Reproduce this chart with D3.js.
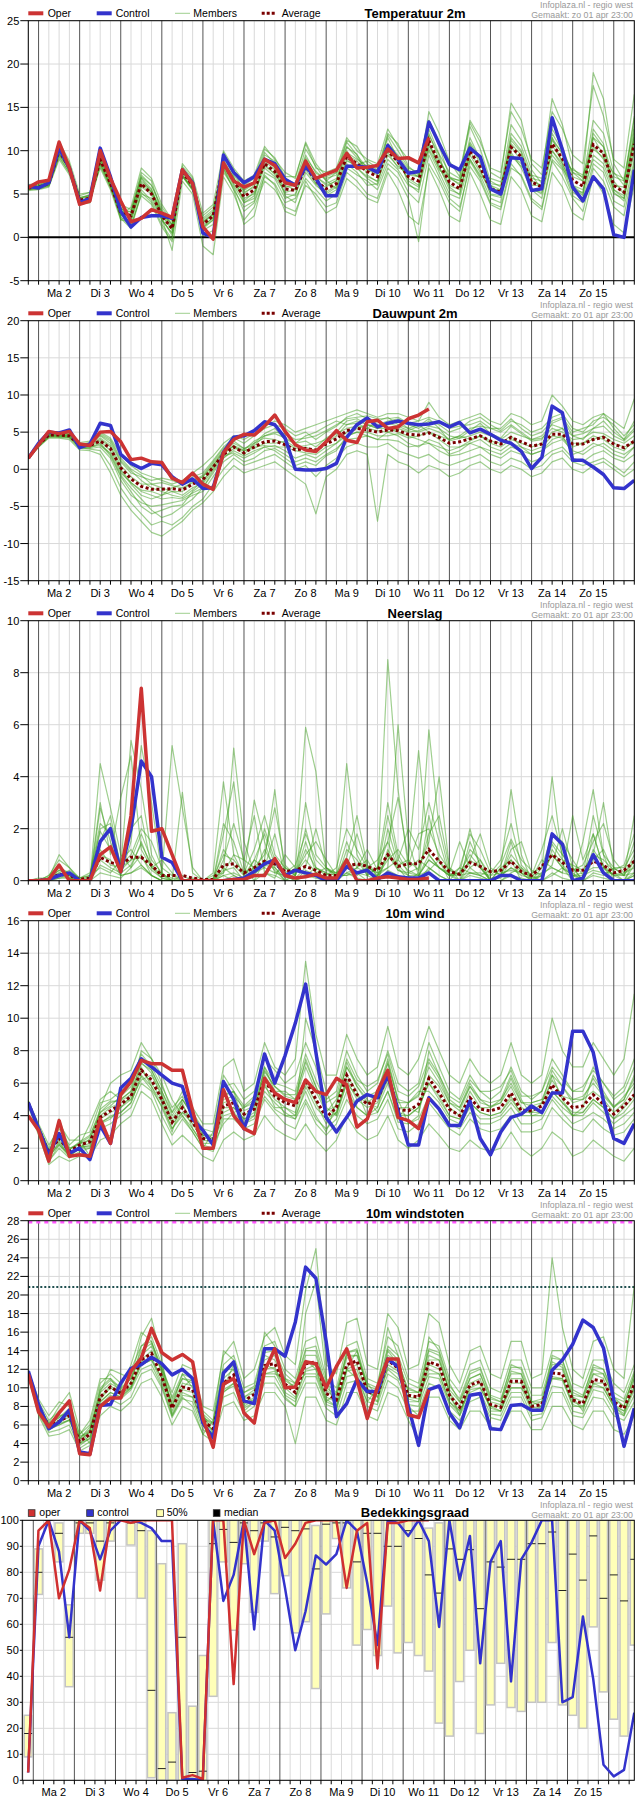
<!DOCTYPE html>
<html><head><meta charset="utf-8">
<script src="https://cdn.jsdelivr.net/npm/d3@7"></script>
<style>
body{margin:0;background:#fff}
svg{display:block}
text{font-family:"Liberation Sans",Arial,Helvetica,sans-serif}
</style>
</head><body>
<svg id="chart" width="635" height="1800"></svg>
<script>
// ---------- categories / labels ----------
const DAY_LABELS = ["Ma 2","Di 3","Wo 4","Do 5","Vr 6","Za 7","Zo 8","Ma 9","Di 10","Wo 11","Do 12","Vr 13","Za 14","Zo 15"];
const SOURCE_LINE1 = "Infoplaza.nl - regio west";
const SOURCE_LINE2 = "Gemaakt: zo 01 apr 23:00";

// ---------- Temperatuur 2m ----------
const T2M_OPER = [5.75,6.4,6.6,11,8,3.8,4.2,10,6.8,4.2, 1.8,2.2,3.2,2.8,2.3,7.8,6.2,1.2,-0.2,8.6, 6.5,5.8,6.3,9,8.3,6.3,6,8.8,6.8,7.3, 7.75,9.7,8,8.1,8.3,10.2,9.1,9.2,8.6,11.5];
const T2M_CTRL = [5.9,5.7,6.3,10.3,8,4,4.5,10.3,7,3, 1.2,2.3,2.5,2.5,2.2,7.8,6.3,0.5,0,9.5, 7.5,6.3,7,9,8.5,6.7,6,8.2,6.8,4.8, 4.8,8.2,8.2,8.1,7.5,10.6,9,7.4,7.6,13.3, 10.8,8.4,7.8,10.3,9.3,5.6,5,9.2,9.1,5.4, 5.6,13.8,10.1,5.8,4.2,7,5.6,0.3,0,7.8];
const T2M_AVG = [5.7,5.8,6.2,10,8,4.3,4.5,9,6.2,2.8, 2.5,6.2,5,2.5,1,7.5,6,1.5,2.5,8.5, 6.5,4.7,5.5,8.5,7.6,5.6,5.4,8.2,6.5,5.6, 6.2,9.3,8.5,7.6,7,10,8.7,7,6.5,11.2, 8.5,6.4,5.6,10,8.1,5.6,5.2,10.4,9.3,6.4, 5.8,10.8,9.1,6.6,5.9,10.7,9.7,6,5.2,10.8];
const T2M_MEMBERS = [
 [6.0,6.1,6.5,10.8,8.5,4.0,4.2,9.8,6.8,3.5, 2.0,5.5,4.2,2.0,0.5,8.0,6.5,1.0,2.0,9.5, 7.2,5.5,6.5,9.8,8.5,6.2,6.0,9.5,7.4,6.8, 7.2,11.0,9.5,8.0,7.8,11.5,9.0,6.5,5.8,12.5, 9.6,7.5,6.8,12.8,10.2,6.5,5.8,13.0,11.2,7.8, 6.2,12.5,10.5,7.0,6.5,13.5,12.0,7.5,6.0,13.8],
 [5.5,5.6,5.9,9.2,7.5,4.5,4.8,8.0,5.5,2.0, 2.8,7.2,6.0,3.2,1.5,7.0,5.8,2.5,3.5,7.5, 5.8,3.0,4.0,7.0,6.2,4.0,4.5,6.8,5.5,4.2, 5.0,8.0,7.2,6.5,5.5,8.5,7.5,5.2,4.0,9.5, 7.0,4.5,3.5,8.2,6.5,3.8,3.2,8.0,7.2,4.5, 3.5,9.0,7.8,4.8,4.0,8.5,7.5,4.2,3.5,9.0],
 [5.9,6.0,6.4,10.4,8.2,3.8,4.0,9.5,6.5,3.0, 1.5,4.8,3.8,1.2,-0.5,8.2,6.8,0.8,1.5,10.0, 8.0,6.5,7.2,10.5,9.0,7.5,6.8,11.0,8.5,7.0, 7.5,10.5,9.2,7.8,7.2,11.8,10.0,8.0,7.5,13.5, 10.5,7.0,6.0,11.5,9.0,6.0,5.0,12.0,10.5,7.2, 5.5,11.5,8.5,5.8,4.8,12.5,10.8,5.5,4.5,12.0],
 [5.6,5.7,6.0,9.6,7.8,4.8,5.2,8.5,6.0,2.5, 3.5,8.0,6.8,3.8,2.0,7.2,5.5,2.0,3.0,8.0, 6.0,4.0,4.5,8.8,7.8,4.8,4.0,7.5,6.0,5.0, 5.8,9.0,8.0,7.0,6.5,9.5,8.2,7.5,7.0,10.2, 8.0,6.0,5.5,9.5,7.5,5.5,5.5,11.5,10.0,6.8, 6.5,9.5,8.0,6.0,5.5,9.0,8.0,5.0,4.5,9.8],
 [5.8,5.9,6.3,10.2,8.0,4.2,4.6,9.2,6.3,3.2, 2.2,6.5,5.5,2.8,1.2,7.8,6.2,1.2,2.0,8.8, 6.8,5.0,6.0,9.2,8.0,6.0,5.5,8.8,7.0,6.0, 6.5,9.8,9.0,8.2,7.5,10.8,9.5,7.8,7.0,12.0, 9.0,6.8,6.2,10.8,8.5,6.2,6.0,9.5,8.5,6.0, 6.0,12.0,10.0,7.5,7.0,11.5,10.5,7.0,6.5,11.5],
 [5.4,5.5,5.8,9.0,7.2,4.0,4.0,8.2,5.8,2.2, 1.0,5.0,4.5,2.2,-1.5,6.5,5.0,-1.0,-2.0,7.0, 5.0,2.0,3.5,6.5,5.5,3.5,3.0,6.0,5.0,3.5, 4.0,7.5,6.5,5.0,4.5,8.0,6.8,4.5,-0.5,8.5, 6.5,4.0,3.0,8.8,6.8,4.0,3.5,8.5,7.0,4.2, 3.2,8.8,7.0,4.5,3.0,8.0,6.5,3.5,2.5,8.5],
 [6.1,6.2,6.6,11.0,8.8,5.0,5.2,10.0,7.2,3.8, 3.2,7.0,6.0,3.5,1.8,8.5,7.0,2.8,3.8,9.8, 7.5,6.0,6.8,10.2,9.2,7.0,7.0,10.8,8.0,7.5, 8.0,11.5,10.0,9.0,8.5,12.5,10.5,9.0,8.5,13.5, 11.0,8.5,7.5,13.2,11.0,8.0,7.5,14.5,12.5,9.0, 8.0,14.5,12.5,9.5,8.5,17.5,14.0,9.0,8.0,16.5],
 [5.7,5.8,6.1,9.8,7.6,4.4,4.7,8.8,6.0,2.6, 2.6,6.8,5.2,2.5,0.8,7.4,5.9,1.8,2.8,8.2, 6.2,4.5,5.0,8.0,7.0,5.2,5.5,8.2,6.8,5.2, 6.0,9.5,8.8,7.8,7.5,10.2,8.5,6.8,6.0,10.5, 8.8,7.0,6.5,11.0,9.0,6.0,5.5,10.8,9.5,6.5, 6.0,11.2,9.8,7.5,6.5,10.5,9.0,6.0,5.8,11.0],
 [5.8,5.8,6.2,10.0,8.2,4.2,4.4,9.0,6.5,2.0, 1.8,5.8,5.0,2.0,0.5,7.6,6.2,1.4,2.2,8.6, 7.0,4.2,5.2,8.5,7.2,5.8,6.0,9.0,7.0,6.2, 6.8,10.0,8.0,6.8,6.0,9.0,7.8,6.0,5.5,10.0, 7.5,5.0,4.5,9.0,7.2,4.5,4.0,10.5,8.8,5.5, 4.5,10.0,8.5,6.0,5.0,11.5,9.5,6.5,5.0,12.5],
 [5.6,5.7,6.0,9.5,7.9,4.6,4.9,9.0,6.0,3.0, 3.0,7.5,6.5,2.8,1.5,7.2,5.6,2.2,3.2,8.0, 5.5,3.5,4.2,7.5,6.8,4.5,5.0,7.8,6.2,4.8, 5.5,8.5,7.5,6.0,6.2,10.5,9.0,7.2,7.0,11.0, 8.2,5.5,5.0,10.0,7.8,5.0,4.8,9.8,8.0,5.5, 5.2,10.0,8.2,5.2,4.5,9.5,8.5,5.5,4.8,10.2],
 [5.9,6.0,6.4,10.6,8.4,4.6,4.8,9.4,6.6,3.4, 2.4,6.0,5.2,2.6,1.0,7.9,6.4,1.8,2.6,9.2, 7.8,5.2,5.8,9.5,8.8,6.8,6.2,10.2,8.2,6.5, 7.5,11.2,10.5,8.5,7.8,12.0,10.8,8.2,7.2,14.5, 12.0,8.8,7.0,13.5,11.5,7.5,6.8,15.5,13.5,8.5, 7.2,16.0,13.0,8.0,6.8,19.0,16.0,8.5,6.5,14.0],
 [5.5,5.6,6.0,9.4,7.4,4.1,4.3,8.6,5.9,2.4, 1.2,5.2,4.0,1.5,-0.2,7.0,5.5,0.2,0.8,7.8, 5.5,1.5,2.5,7.2,6.0,3.0,2.5,6.5,4.5,2.8, 3.5,6.8,5.8,4.5,4.0,7.5,5.5,2.5,1.5,8.0, 5.5,2.5,1.8,7.5,5.0,2.0,1.5,7.0,5.5,2.5, 1.8,7.5,5.8,2.8,2.0,7.0,5.0,1.5,0.5,6.0],
 [5.7,5.9,6.2,9.9,8.1,4.5,4.9,9.6,6.9,3.3, 2.9,6.9,5.6,2.2,0.2,7.1,5.4,1.6,2.7,9.0, 6.9,4.0,4.8,9.0,8.2,5.0,4.8,8.6,6.2,5.8, 6.6,10.4,9.6,7.2,6.4,10.8,9.2,6.2,5.2,11.8, 9.5,5.8,4.9,10.6,8.9,4.9,4.6,11.2,9.8,5.6, 5.0,11.5,9.6,5.5,5.2,12.0,10.4,5.2,4.2,11.6],
 [5.8,5.9,6.3,10.1,7.7,3.9,4.1,8.4,5.7,2.9, 2.3,6.3,5.3,3.0,1.4,7.6,6.6,1.1,2.4,8.3, 6.4,5.4,6.2,8.2,7.4,6.4,5.9,9.2,7.6,6.6, 5.6,8.8,8.4,8.8,8.0,9.8,8.0,7.6,7.4,10.8, 7.8,6.8,6.6,9.0,7.0,6.8,6.4,9.4,8.2,7.2, 6.8,10.6,8.8,7.8,7.2,10.2,9.2,7.4,6.8,12.8]
];

// ---------- Dauwpunt 2m ----------
const TD_OPER = [1.5,3.3,5.1,4.8,5.1,3.4,3.2,5,5.1,3.7, 1.3,1.5,1,0.9,-1.2,-1.8,-0.5,-2,-2.7,2.2, 4,4.7,4.6,5.8,7.3,5.1,3.3,2.6,2.4,3.7, 5.2,3.9,3.6,6.4,6.6,5.5,5.7,6.8,7.3,8.1];
const TD_CTRL = [1.5,3.5,5,4.9,5.3,2.9,3.4,6.2,5.9,2, 0.8,0.1,0.8,0.6,-1,-2,-1.3,-2.6,-2.5,2.3, 4.3,4.5,5.2,6.4,6,4.2,0,-0.1,-0.1,0.1, 0.8,4.3,6,6.9,5.7,6.2,6.5,6.2,6,6.1, 6.4,5.7,6.3,4.9,5.4,4.7,3.9,3.5,2.4,0.1, 1.6,8.5,7.6,1.2,1.2,0.3,-0.7,-2.5,-2.6,-1.5];
const TD_AVG = [1.5,3.3,4.6,4.6,4.5,3.2,3.2,3.8,2.8,0.2, -1.3,-2.3,-2.7,-2.7,-2.6,-2.8,-2,-1.4,0.3,2, 3,2.2,3,3.7,3.8,3.3,2.6,2.8,2.6,3.4, 4.1,5.2,5.5,5.3,5,5.3,5.2,4.7,4.6,4.9, 4.3,3.5,3.7,4.1,4.5,3.8,3.4,4.3,3.7,3.1, 3.4,4.7,4.7,3.4,3.4,4,4.3,3.4,2.9,3.8];
const TD_MEMBERS = [
 [1.5,3.5,4.8,4.9,4.8,3.5,3.4,4.5,3.5,1.0, -0.5,-1.0,-1.5,-1.2,-1.5,-2.0,-1.0,-0.5,1.2,3.0, 4.2,3.5,4.5,5.5,6.0,5.5,4.5,5.0,4.0,5.0, 5.8,7.0,7.5,6.8,6.0,6.5,6.8,6.0,5.5,6.5, 6.0,5.0,5.5,6.5,7.0,6.0,5.2,6.5,6.0,5.0, 5.5,7.0,7.5,5.5,5.0,6.5,7.0,6.0,4.5,6.0],
 [1.4,3.0,4.4,4.3,4.2,2.8,2.8,3.0,1.5,-1.5, -3.5,-4.5,-5.0,-4.8,-4.5,-4.2,-3.5,-3.0,-1.0,1.0, 2.0,1.0,1.5,2.5,2.8,2.0,1.0,1.5,1.0,2.0, 2.8,4.0,4.2,4.5,4.0,4.0,3.8,3.0,3.2,3.5, 2.5,1.8,2.0,2.5,3.0,2.0,1.5,2.5,2.0,1.0, 1.5,2.5,3.0,1.5,1.0,2.0,2.5,1.5,1.0,2.0],
 [1.6,3.4,4.7,4.7,4.6,3.3,3.5,4.8,4.0,1.5, 0.0,-0.8,-2.0,-2.5,-3.0,-3.0,-1.5,-1.0,0.5,2.5, 3.5,2.8,3.5,4.8,5.5,4.0,3.5,4.5,5.0,5.8, 6.5,6.0,6.2,5.5,6.5,7.0,6.0,5.5,6.0,5.0, 4.5,4.0,4.5,5.5,5.8,5.5,5.0,6.0,5.0,4.0, 4.5,6.0,5.5,4.5,4.8,5.5,6.5,5.0,4.0,5.5],
 [1.5,3.2,4.5,4.5,4.4,3.0,3.0,3.5,2.0,-0.8, -2.5,-4.0,-5.5,-6.5,-6.0,-5.0,-4.0,-2.5,-0.5,1.5, 2.5,1.8,2.5,3.0,3.2,2.5,1.5,2.0,1.5,2.5, 3.5,5.0,5.5,6.0,5.5,5.5,5.0,4.5,4.0,3.5, 3.0,2.5,3.0,3.5,3.0,2.5,2.0,3.0,2.5,2.0, 2.5,3.5,4.0,2.5,2.0,3.0,3.5,2.5,2.0,3.0],
 [1.5,3.3,4.6,4.6,4.5,3.2,3.1,3.8,2.5,-0.2, -2.0,-3.5,-4.0,-3.5,-3.0,-3.5,-2.5,-1.8,0.5,2.2, 3.2,2.0,3.5,4.2,4.0,3.5,2.8,3.0,2.5,3.5, 4.5,6.0,6.5,6.0,5.5,6.0,6.5,5.5,5.0,5.5, 5.0,4.0,4.5,4.0,4.5,3.5,3.0,4.0,3.5,3.0, 3.5,5.0,5.5,3.5,3.5,4.5,4.0,3.0,2.5,4.0],
 [1.4,3.1,4.3,4.4,4.3,2.9,2.7,2.5,0.5,-2.5, -4.5,-6.0,-7.5,-7.0,-7.5,-6.5,-5.0,-4.0,-2.0,0.0, 1.5,0.5,1.0,1.5,2.0,1.0,0.0,0.5,-1.0,0.5, 1.5,3.0,3.5,3.0,3.0,3.5,2.5,2.0,1.5,2.0, 1.0,0.5,1.0,1.5,2.0,1.0,0.5,1.5,1.0,0.0, 0.5,2.0,2.5,1.0,0.5,1.0,1.5,0.5,-0.5,1.0],
 [1.6,3.6,4.9,5.0,5.0,3.6,3.8,5.0,4.2,2.0, 0.5,-0.5,-1.0,-1.5,-2.0,-1.5,-0.5,0.5,1.8,3.5, 4.5,4.0,4.8,5.8,6.5,6.0,5.0,5.5,6.0,6.5, 7.0,7.5,8.0,7.5,7.0,7.5,7.5,7.0,6.5,9.0, 7.0,6.0,6.5,7.0,7.5,6.5,6.0,7.5,7.0,6.0, 6.5,10.0,8.5,6.5,6.0,7.0,7.5,6.5,5.5,9.5],
 [1.5,3.2,4.5,4.4,4.3,3.1,3.0,3.2,2.2,-0.5, -1.8,-3.0,-3.5,-4.0,-3.8,-4.0,-3.2,-2.5,-0.2,1.5, 2.8,2.5,3.0,3.2,3.0,3.0,2.5,2.2,2.0,3.0, 3.5,4.5,5.0,5.0,4.5,4.5,4.8,4.2,4.5,5.0, 4.0,3.0,3.0,3.8,4.5,3.8,3.5,4.5,3.0,2.5, 3.0,4.5,4.2,3.0,3.5,4.0,4.5,3.5,3.0,3.5],
 [1.5,3.4,4.7,4.8,4.7,3.4,3.3,4.2,3.2,0.5, -1.0,-2.0,-2.0,-1.8,-2.2,-2.5,-1.8,-1.0,0.8,2.5, 3.0,2.5,2.8,3.5,3.5,3.8,3.0,3.2,3.5,4.0, 4.8,5.5,5.8,5.5,5.2,5.0,5.5,5.0,5.2,5.8, 5.5,4.5,4.2,4.5,5.0,4.5,4.0,5.0,4.5,4.0, 4.2,5.5,5.0,4.0,4.2,5.0,4.8,4.0,3.5,4.5],
 [1.4,3.0,4.2,4.2,4.0,2.6,2.5,2.0,-0.5,-3.5, -5.5,-7.0,-8.5,-9.0,-8.0,-7.0,-5.5,-4.5,-3.0,-1.0, 0.5,-0.5,0.0,0.5,1.0,0.0,-1.0,-2.0,-6.0,-1.0, 0.0,2.0,2.5,2.0,-7.0,2.0,1.0,0.5,-0.5,0.5, 0.0,-1.0,-0.5,0.5,1.0,0.0,-0.5,0.5,0.0,-1.0, -0.5,1.0,1.5,0.0,-0.5,0.5,1.0,0.0,-1.0,0.0],
 [1.5,3.3,4.6,4.5,4.6,3.3,3.2,4.0,3.0,0.0, -1.8,-2.8,-3.0,-3.5,-2.5,-2.0,-1.5,-0.8,1.0,2.8, 3.8,2.8,3.2,4.5,4.8,4.2,3.5,3.8,3.0,4.2, 5.0,6.5,6.8,6.0,5.8,6.2,5.8,5.2,5.8,6.8, 5.5,3.8,4.2,5.2,6.2,4.8,4.2,5.8,4.8,3.8, 4.0,6.2,6.8,4.5,4.0,5.5,5.8,4.5,3.8,5.2],
 [1.4,3.2,4.5,4.6,4.4,3.0,2.9,3.4,1.8,-1.0, -3.0,-5.0,-6.0,-5.5,-5.0,-4.8,-3.0,-2.0,0.0,1.8, 2.2,1.5,2.2,3.0,2.5,1.5,0.5,1.0,0.5,1.8, 2.5,4.5,5.0,4.5,4.0,5.0,4.5,3.5,3.0,4.0, 3.5,2.0,2.5,3.5,4.0,3.0,2.5,3.5,3.0,2.0, 2.5,4.0,4.5,2.0,2.5,3.5,3.0,2.0,1.5,3.0],
 [1.6,3.5,4.8,4.9,4.7,3.4,3.6,4.6,3.8,1.2, -0.2,-1.5,-2.5,-3.0,-3.5,-3.8,-2.8,-1.5,0.2,2.0, 3.2,2.6,3.8,4.5,5.0,4.8,4.0,4.2,4.5,5.2, 6.0,6.8,7.0,7.2,6.8,6.8,7.0,6.2,6.5,7.0, 6.5,5.5,5.8,6.0,6.5,5.5,5.5,6.8,5.5,4.5, 5.0,6.5,7.0,5.0,5.5,6.0,7.5,5.5,4.0,6.5]
];

// ---------- Neerslag ----------
const PR_OPER = [0,0,0.05,0.6,0,0,0,1.0,1.3,0.35, 2.5,7.4,1.9,2.0,1.0,0,0,0,0,0, 0.05,0.05,0.2,0.2,0.85,0.2,0.1,0.15,0.25,0.1, 0.1,0.8,0,0,0.1,0.15,0.1,0.05,0.05,0.1];
const PR_CTRL = [0,0,0.05,0.2,0.3,0,0,1.5,2.0,0.35, 2.0,4.6,4.0,0.9,0.7,0,0,0,0,0, 0.05,0.1,0.35,0.65,0.8,0.2,0.4,0.3,0.2,0, 0,0.55,0.3,0.4,0.05,0.3,0.15,0.1,0.1,0.3, 0,0,0,0,0,0,0.2,0.2,0,0, 0,1.8,1.4,0,0.1,1.0,0.3,0,0,0];
const PR_AVG = [0,0.02,0.05,0.25,0.2,0.05,0.1,0.9,0.7,0.6, 0.9,0.9,0.6,0.2,0.2,0.2,0.1,0.05,0.05,0.6, 0.65,0.3,0.5,0.75,0.65,0.35,0.4,0.55,0.4,0.2, 0.2,0.55,0.65,0.55,0.4,1.0,0.55,0.65,0.65,1.2, 0.75,0.35,0.25,0.7,0.55,0.35,0.4,0.75,0.35,0.2, 0.55,1.0,0.7,0.4,0.4,0.75,0.6,0.3,0.4,0.75];
const PR_MEMBERS = [
 [0,0,0.1,0.5,0.3,0,0,2.8,1.5,0.2, 1.5,5.2,3.0,0.3,0,0,0,0,0,0.5, 0.2,0,0.3,1.2,0.5,0,0.2,1.5,0.3,0, 0,0.5,1.8,0.5,0,1.2,0.4,0.2,0,2.5, 0.8,0,0,0.8,0.5,0,0.2,1.5,0.3,0, 0,1.2,0.6,0.2,0,1.8,0.5,0,0,0.6],
 [0,0,0,0.2,0.4,0.1,0.2,0.5,0.3,0.8, 1.2,0.6,0.2,0,0,0,0,0,0,1.8, 3.8,0.5,0,0.8,3.5,0.2,0,0.4,0.2,0, 0.2,0.8,0.3,0.2,0.5,3.0,1.0,0.3,0.5,1.5, 4.0,0.5,0,0.3,0.2,0,0.5,0.8,0,0, 0.2,0.6,2.0,0.5,0,0.3,0.2,0.5,0.2,1.0],
 [0,0,0.1,0.3,0.2,0,0,4.5,2.8,1.0, 0.5,1.0,0.2,0,0,0.2,0,0,0.2,0.3, 1.0,0.8,2.5,0.3,0.1,1.0,0.5,0.2,0.3,0.5, 0.2,0.2,0.5,0.3,0.2,0.5,6.0,1.5,0.2,0.8, 0.5,0.2,0.3,2.0,0.5,0,0,0.3,0.5,0.2, 0,0.2,0.5,0,1.5,3.5,1.0,0,0,0.2],
 [0,0,0.2,0.8,0.5,0.1,0.3,1.5,2.5,0.5, 5.4,3.5,1.0,0.2,5.2,2.8,0.5,0,0,0.2, 0,0,0.5,2.0,0.8,0.2,0.5,5.9,4.2,0.5, 0.3,0.6,0.2,0.5,0.3,8.5,3.5,0.5,0.8,0.5, 0.2,0,0.5,0.3,0.2,0,0.2,0.5,0.3,0, 0.3,1.0,0.5,0.2,0.3,0.5,0.5,0.2,0,0.8],
 [0,0.1,0.1,0.4,0.2,0,0,0.8,0.5,0.3, 2.0,2.5,0.5,0.8,0.3,0,0,0,0,0.3, 5.1,1.5,0.3,0.5,0.3,0.2,0,0.2,0.5,0.3, 0,0.5,0.3,0,0.2,1.0,0.6,0.8,5.0,1.0, 0.5,0.2,0,1.5,0.6,0,0.5,3.5,1.0,0, 0.2,1.5,1.0,0.5,0,0.8,1.2,0.3,0,0.3],
 [0,0,0,0.1,0.1,0,0,0.3,0.2,0.1, 0.5,1.5,0.5,0.1,0,0,0,0,0,0, 0.2,0,0,0.3,0.2,0,0,0.2,0.1,0, 0,0.3,0.1,0,0,0.4,0.2,0,0,0.5, 0.2,0,0,0.2,0.1,0,0,0.2,0.1,0, 0,0.3,0.1,0,0,0.2,0.1,0,0,0.2],
 [0,0,0.1,1.0,0.5,0,0.1,3.0,1.0,3.2, 4.8,1.2,0.5,0.2,0,0,0,0,0.3,3.8, 1.0,0.2,3.1,1.5,0.3,0.5,0.2,2.0,0.5,0.3, 0.2,4.5,1.0,0.2,0.5,1.5,0.5,0,0.3,5.8, 2.0,0.3,0,0.5,0.8,0,0.2,1.0,0.5,0, 0.5,4.0,0.8,0.3,0,1.0,3.0,0.5,0.2,2.5],
 [0,0,0,0.1,0.2,0,0,1.0,0.8,0.2, 0.3,0.5,0.2,0,0,3.4,0.3,0,0,0.2, 0.3,0.1,0.8,0.5,1.8,0.2,0.1,0.5,2.0,0.5, 0.1,0.3,0.5,0.8,0.1,2.0,0.6,0.2,0.2,0.8, 0.5,0.3,1.5,0.5,0.2,0.4,0.2,0.5,0.2,0.1, 0.8,0.5,0.3,2.5,0.8,1.8,0.5,0.2,0.3,0.5],
 [0,0,0.1,0.2,0.1,0,0.2,1.9,1.2,0.4, 0.8,0.9,0.4,0.1,0,0,0,0,0,0.4, 0.5,0,0.2,0.8,0.4,0,0.3,0.8,0.3,0.1, 0,1.2,0.8,0.2,0,1.0,0.4,0.3,0.2,1.0, 0.5,0.2,0.3,1.0,0.5,0.1,0.1,0.8,0.4,0.1, 0.2,1.0,0.5,0.2,0.1,1.2,0.6,0.2,0.2,0.8],
 [0,0,0.2,0.6,0.1,0,0,0.6,0.4,0.2, 0.3,0.6,0.2,0,0,0,0,0,0.1,1.0, 0.8,0.3,0.5,0.6,0.5,0.1,0.2,3.0,1.0,0.5, 0.2,0.2,0.3,0.5,0.3,0.5,0.8,0.4,0.2,0.4, 0.8,0.2,0.2,0.3,0.3,0.2,0.3,0.4,0.3,0.2, 0.3,0.5,0.3,0.2,0.2,0.4,0.3,0.3,0.2,0.3],
 [0,0,0.1,0.4,0.3,0,0,2.0,2.2,0.6, 1.0,2.0,1.5,0.5,0.2,0,0.1,0,0,2.2, 1.5,0.3,1.2,2.5,1.0,0.5,0.3,1.0,1.5,0.8, 0.2,1.5,0.5,1.2,0.4,2.5,0.8,2.0,1.2,3.0, 1.5,0.2,0.5,1.8,1.2,0.3,0.8,2.2,0.6,0.2, 1.2,2.5,1.0,0.4,0.6,1.5,2.2,0.8,0.3,1.5],
 [0,0,0,0.3,0.2,0,0.1,1.2,0.6,0.5, 0.8,1.8,0.8,0.3,0,0,0,0,0,0.8, 2.2,0.8,0.5,1.0,2.8,0.6,0.2,1.2,0.5,0.2, 0.5,2.0,1.2,0.5,0.8,1.5,3.2,0.8,0.4,1.8, 2.5,0.5,0.2,0.8,1.8,0.5,0.2,1.2,1.5,0.3, 0.5,1.8,1.5,0.8,0.2,2.5,1.0,0.5,0.5,1.2],
 [0,0,0.1,0.2,0.3,0.1,0.2,2.2,1.8,0.3, 0.6,1.4,0.6,0.2,0.1,0,0,0,0,1.2, 0.6,0.2,0.8,1.8,0.6,0.3,0.6,1.8,0.8,0.4, 0.3,0.9,2.5,0.6,0.2,0.8,1.2,0.6,1.8,2.0, 1.0,0.4,0.2,1.2,0.8,0.2,0.6,1.6,0.8,0.4, 0.2,1.4,0.8,0.6,0.4,1.0,0.8,0.4,0.6,1.8]
];

// ---------- 10m wind ----------
const WS_OPER = [4.0,3.1,1.2,3.7,1.5,1.6,1.5,3.8,2.3,5.3, 6.1,7.4,7.2,7.2,6.8,6.8,4.3,2.0,2.0,5.6, 4.0,3.2,2.9,6.3,5.4,5.0,4.8,6.2,5.5,5.3, 6.3,5.9,3.3,3.8,5.5,6.8,3.9,3.7,3.2,5.1];
const WS_CTRL = [4.8,3.2,1.6,2.9,1.7,2.0,1.3,3.4,2.3,5.7, 6.3,7.5,7.0,6.5,6.0,5.8,3.8,3.1,2.2,6.1, 5.0,3.2,5.0,7.8,6.0,7.7,9.7,12.1,7.9,3.9, 3.0,3.9,4.9,5.3,5.1,6.5,4.3,2.2,2.2,5.1, 4.4,3.4,3.4,4.9,2.6,1.6,3.0,3.9,4.1,4.6, 4.2,5.4,5.4,9.2,9.2,7.9,4.9,2.6,2.3,3.5];
const WS_AVG = [4.8,3.2,1.7,2.6,1.8,2.2,2.4,3.9,4.3,4.7, 5.2,6.8,6.2,5.0,3.6,4.5,3.6,2.6,2.5,4.6, 4.8,4.1,4.4,6.2,5.2,4.8,4.6,6.2,5.0,3.9, 4.5,6.5,5.3,4.7,5.0,6.5,4.4,4.3,4.7,6.3, 5.4,4.4,4.0,5.1,4.4,4.3,4.5,5.4,4.3,4.3, 4.6,5.9,5.1,4.5,4.6,5.3,4.7,4.1,4.6,5.3];
const WS_MEMBERS = [
 [4.9,3.5,2.2,3.2,2.2,2.8,3.0,4.8,5.0,5.5, 6.0,7.8,7.0,5.8,4.5,5.2,4.2,3.2,3.0,5.8, 6.0,5.0,5.5,7.5,6.8,6.0,6.5,8.5,7.0,5.0, 5.5,8.0,6.5,5.5,6.0,8.0,6.0,5.5,6.0,8.5, 7.0,5.5,5.0,6.5,5.5,5.0,5.5,7.0,5.5,5.0, 5.5,7.5,6.5,5.5,5.5,7.0,6.0,5.0,5.5,7.0],
 [4.7,3.0,1.2,2.0,1.4,1.8,2.0,3.2,3.5,4.0, 4.5,6.0,5.5,4.0,2.8,3.8,3.0,2.0,1.8,3.8, 3.8,3.2,3.5,5.0,4.2,3.5,3.2,4.8,3.5,2.8, 3.5,5.0,4.0,3.5,3.8,5.0,3.2,3.0,3.5,4.8, 4.0,3.2,2.8,3.8,3.2,3.0,3.2,4.0,3.0,3.0, 3.2,4.5,3.8,3.2,3.0,3.8,3.2,2.8,3.0,3.8],
 [4.8,3.3,2.0,3.5,2.5,2.5,1.5,4.5,6.0,6.5, 6.8,8.5,7.5,6.5,5.0,4.0,3.0,2.0,3.0,6.5, 5.5,3.5,4.0,7.0,5.5,4.0,4.0,10.0,8.0,5.5, 4.0,6.0,4.5,4.0,5.5,7.5,5.0,3.5,4.0,8.0, 6.5,5.0,4.5,6.0,5.0,4.5,5.0,6.5,5.0,4.0, 4.0,6.5,5.0,4.0,4.5,6.5,5.5,4.5,5.0,6.5],
 [4.8,3.1,1.5,2.2,1.6,2.0,2.2,3.5,4.0,4.2, 4.8,6.5,5.8,4.5,3.0,5.0,4.0,3.0,2.2,3.5, 4.2,4.5,5.0,6.0,4.5,4.5,4.0,5.5,4.0,3.0, 4.8,7.0,5.8,5.0,4.2,5.5,3.8,4.8,5.5,5.5, 4.8,3.8,3.5,4.5,3.8,3.8,4.0,4.8,4.0,4.8, 5.0,5.2,4.5,4.0,4.0,4.8,4.2,3.5,4.0,4.5],
 [4.9,3.4,1.8,2.8,1.9,2.4,2.8,4.2,4.8,5.0, 5.5,7.2,6.8,5.5,4.0,5.0,4.0,2.8,2.8,5.0, 5.2,4.5,4.8,6.8,5.8,5.2,5.0,7.0,5.5,4.2, 5.0,7.0,6.0,5.2,5.5,7.2,5.0,4.8,5.2,7.0, 6.0,4.8,4.5,5.8,5.0,4.8,5.0,6.0,4.8,4.8, 5.0,6.5,5.8,5.0,5.2,6.0,5.2,4.5,5.2,6.0],
 [4.6,2.8,1.0,1.5,1.2,1.5,1.5,2.5,2.8,3.5, 4.0,5.5,5.0,3.5,2.2,2.8,2.2,1.5,1.2,2.5, 3.0,2.5,2.8,4.0,3.2,2.8,2.5,3.5,2.5,1.8, 2.5,4.0,3.0,2.5,2.8,4.0,2.5,2.0,2.5,3.5, 2.8,2.0,1.8,2.5,2.0,1.8,2.0,3.0,2.0,1.5, 2.0,3.0,2.5,1.5,1.8,2.5,2.0,1.5,1.2,2.0],
 [4.8,3.2,1.6,3.8,2.0,2.2,3.5,5.0,5.5,5.0, 5.5,8.0,7.5,6.0,4.2,5.5,4.5,3.5,3.5,7.0, 7.5,5.5,6.0,8.5,7.0,6.5,7.5,13.5,9.0,6.5, 6.5,9.0,7.5,6.5,7.0,9.5,7.0,6.5,7.5,9.5, 8.0,6.5,6.0,7.5,6.5,6.0,6.5,8.5,6.5,6.0, 6.5,10.0,8.0,7.0,7.0,8.5,7.5,6.5,7.5,11.5],
 [4.7,3.1,1.8,2.5,1.7,2.1,2.3,3.8,4.2,4.5, 5.0,6.8,6.0,5.0,3.5,4.2,3.5,2.5,2.4,4.5, 4.5,3.8,4.2,5.8,5.0,4.5,4.2,6.0,4.8,3.5, 4.2,6.2,5.0,4.5,4.8,6.2,4.2,4.0,4.5,6.0, 5.2,4.0,3.8,4.8,4.2,4.0,4.2,5.2,4.0,4.0, 4.2,5.5,4.8,4.2,4.2,5.0,4.5,3.8,4.2,5.0],
 [4.9,3.2,1.4,2.4,1.5,2.0,2.6,4.0,4.5,4.8, 5.0,6.2,6.5,5.2,3.8,4.8,3.2,2.2,2.0,4.8, 5.0,4.0,4.5,6.5,5.5,5.5,5.0,7.5,5.8,4.5, 4.0,6.5,5.5,4.0,4.5,6.8,4.5,4.5,4.2,6.5, 5.8,4.5,4.0,5.5,4.5,4.5,4.8,5.8,4.5,4.2, 4.8,6.2,5.2,5.0,5.0,5.5,5.0,4.2,4.8,5.8],
 [4.8,3.0,1.2,2.2,1.5,2.0,2.0,3.5,3.8,4.5, 5.2,7.0,5.8,4.8,3.2,4.2,3.8,2.8,2.5,4.2, 4.5,3.8,4.0,5.5,4.8,4.2,3.8,5.8,4.5,3.8, 4.2,6.0,5.2,4.8,4.5,6.0,4.0,4.0,4.5,6.0, 5.0,4.0,3.8,4.8,4.2,4.0,4.2,5.0,4.2,4.2, 4.2,5.5,4.8,4.0,4.2,5.0,4.5,3.8,4.5,5.2],
 [4.8,3.3,1.9,2.9,2.0,2.3,2.5,4.2,4.6,5.2, 5.8,7.5,6.8,5.5,4.2,5.0,4.2,3.0,2.6,5.2, 5.5,4.6,5.2,7.0,6.0,5.8,5.5,7.8,6.2,4.8, 5.2,7.5,6.2,5.8,6.2,7.8,5.5,5.2,5.8,7.5, 6.5,5.2,4.8,6.2,5.5,5.5,5.8,6.8,5.2,5.2, 5.5,7.0,6.2,5.5,5.8,6.8,6.0,5.2,5.8,7.5],
 [4.7,3.1,1.5,2.3,1.6,2.1,2.1,3.6,3.9,4.2, 4.8,6.4,5.6,4.6,3.2,4.0,3.2,2.3,2.3,4.0, 4.2,3.5,3.8,5.2,4.4,4.0,3.8,5.0,3.8,3.2, 3.8,5.5,4.5,4.0,4.2,5.5,3.6,3.5,3.8,5.2, 4.5,3.5,3.2,4.2,3.5,3.5,3.8,4.5,3.5,3.5, 3.8,5.0,4.2,3.5,3.8,4.2,3.8,3.2,3.5,4.2],
 [4.9,3.3,1.7,2.7,1.9,2.3,2.7,4.4,4.9,4.9, 5.3,7.3,6.6,5.3,3.6,4.6,3.7,2.6,2.6,5.3, 5.5,4.3,4.6,6.7,5.8,5.3,5.3,7.3,5.8,4.3, 4.6,7.3,5.8,4.8,5.3,7.3,4.8,4.8,5.3,7.3, 6.3,4.8,4.3,5.8,4.8,4.6,4.8,6.3,4.8,4.6, 4.8,6.8,5.8,4.8,5.0,6.3,5.3,4.6,5.0,6.3]
];

// ---------- 10m windstoten ----------
const WG_OPER = [11.5,7.4,5.8,7.3,8.6,2.9,2.8,8.0,8.9,8.9, 11.8,13.2,16.4,13.8,13.0,13.6,12.8,6.7,3.6,10.4, 11.0,7.3,6.2,11.8,14.2,10.0,10.1,12.8,12.6,10.0, 12.3,14.2,10.9,6.7,10.1,13.1,13.1,7.1,6.8,9.8];
const WG_CTRL = [11.8,8.2,5.6,6.3,7.6,3.1,2.9,8.1,8.2,10.5, 12.1,12.5,13.3,12.6,11.4,12.0,11.0,6.2,4.6,11.6, 12.8,8.6,8.3,14.2,14.2,13.4,17.1,23.0,21.8,15.0, 6.9,8.3,10.9,9.6,9.6,13.1,12.3,8.0,3.8,9.8, 10.2,7.3,5.7,9.2,9.4,5.6,5.5,8.1,8.2,7.6, 7.6,11.9,13.0,14.7,17.3,16.5,14.3,8.7,3.7,7.8];
const WG_AVG = [11.5,7.8,5.9,6.4,7.0,4.2,5.0,9.0,10.1,9.4, 10.5,13.0,13.7,11.2,7.8,10.1,9.8,6.5,5.6,10.5, 11.4,8.6,9.3,12.4,12.6,10.4,9.5,12.6,12.8,9.4, 8.7,12.5,12.9,9.6,9.2,13.0,12.1,9.2,9.0,12.8, 12.4,9.2,7.9,10.3,10.7,8.2,7.9,10.7,10.7,8.0, 8.2,11.6,11.5,8.7,8.3,10.9,10.7,8.5,7.8,10.4];
const WG_MEMBERS = [
 [11.8,8.5,6.5,7.5,8.5,5.0,6.0,10.5,11.5,10.5, 12.0,14.5,15.5,12.5,9.0,11.5,11.0,7.5,6.5,12.5, 13.5,10.0,10.5,14.5,15.0,12.0,11.0,15.0,15.5,11.0, 10.0,14.5,15.0,11.0,10.5,15.5,14.5,11.0,10.5,15.0, 14.5,11.0,9.5,12.5,13.0,10.0,9.5,13.0,13.0,10.0, 10.0,14.0,14.0,10.5,10.0,13.0,13.0,10.5,9.5,12.5],
 [11.3,7.2,5.2,5.5,6.0,3.5,4.2,7.8,8.8,8.2, 9.0,11.5,12.0,10.0,6.8,8.8,8.5,5.5,4.8,9.0, 9.5,7.2,8.0,10.5,10.5,8.8,8.0,10.5,10.5,7.8, 7.0,10.5,10.8,8.0,7.5,10.8,10.0,7.5,7.5,10.5, 10.0,7.5,6.5,8.5,9.0,6.8,6.5,9.0,9.0,6.5, 6.8,9.5,9.5,7.0,6.8,9.0,8.8,7.0,6.5,8.5],
 [11.6,8.0,6.2,8.0,9.5,5.5,4.0,9.5,12.0,11.5, 11.0,15.5,17.5,13.0,7.0,9.0,8.0,5.0,6.5,14.0, 13.0,7.5,8.5,16.0,14.5,9.0,8.0,18.0,21.5,11.0, 7.5,12.0,11.0,8.5,10.0,16.5,13.5,8.0,7.0,15.5, 14.0,10.5,8.5,11.5,12.0,9.0,8.5,12.5,12.0,8.5, 8.0,13.5,13.0,9.5,9.0,12.5,12.0,9.0,8.0,11.5],
 [11.4,7.6,5.6,6.0,6.5,4.0,5.5,8.5,9.5,9.0, 10.0,12.5,13.0,11.0,8.5,11.0,10.5,7.0,5.0,9.5, 10.5,9.5,10.0,11.5,11.5,11.0,10.5,11.5,11.5,8.5, 9.5,13.5,13.5,10.5,9.0,12.0,11.0,10.0,9.5,11.5, 11.5,8.5,7.5,9.5,10.0,8.0,8.0,10.0,10.0,8.5, 8.5,11.0,11.0,8.0,8.0,10.5,10.0,8.0,7.5,10.0],
 [11.7,8.2,6.0,6.8,7.5,4.5,5.2,9.5,10.5,9.8, 11.0,13.5,14.5,11.8,8.2,10.5,10.2,6.8,6.0,11.0, 12.0,9.0,9.8,13.0,13.5,11.0,10.0,13.5,13.5,10.0, 9.2,13.2,13.5,10.2,9.8,13.5,12.8,9.8,9.5,13.5, 13.0,9.8,8.5,11.0,11.5,8.8,8.5,11.5,11.5,8.5, 8.8,12.5,12.5,9.2,9.0,11.5,11.5,9.0,8.5,11.0],
 [11.2,7.0,4.8,5.0,5.5,3.2,3.8,7.0,8.0,7.5, 8.5,10.5,11.0,9.0,6.0,8.0,7.5,5.0,4.2,8.0, 8.5,6.5,7.0,9.5,9.5,8.0,4.0,9.0,9.0,6.5, 6.0,9.5,9.5,7.0,6.5,9.5,9.0,6.5,4.5,9.0, 9.0,6.5,5.5,7.5,7.5,5.8,5.5,7.5,7.5,5.5, 5.5,8.0,8.0,6.0,5.5,7.5,7.5,5.5,5.0,7.0],
 [11.9,8.8,7.0,8.5,8.0,5.0,6.5,11.0,11.0,10.0, 12.5,16.0,15.0,12.0,9.5,12.5,12.0,8.0,7.5,13.5, 15.0,11.0,12.0,15.5,16.5,13.5,12.5,20.5,25.0,12.5, 11.5,17.0,17.5,12.5,12.0,18.0,16.5,12.0,12.5,18.0, 17.0,12.5,10.5,14.0,14.5,11.5,11.0,15.0,15.0,11.0, 11.5,24.0,16.5,12.0,11.0,15.0,15.5,12.0,11.0,21.0],
 [11.5,7.8,5.8,6.2,7.2,4.0,4.8,8.8,10.0,9.2, 10.2,12.8,13.2,11.0,7.5,9.8,9.5,6.2,5.5,10.2, 11.0,8.2,9.0,12.0,12.2,10.0,9.0,12.0,12.5,9.0, 8.5,12.0,12.5,9.5,9.0,12.5,11.8,9.0,8.8,12.5, 12.0,9.0,7.5,10.0,10.5,8.0,7.5,10.5,10.5,7.8, 8.0,11.2,11.0,8.5,8.0,10.5,10.5,8.2,7.5,10.2],
 [11.6,7.5,6.0,6.5,6.8,4.5,5.8,9.0,10.2,9.5, 10.0,13.0,14.0,12.0,8.0,10.0,11.0,7.2,5.2,10.0, 12.5,9.0,8.5,12.5,12.0,10.0,10.5,13.0,12.0,8.5, 8.0,12.0,14.0,10.0,8.5,14.0,12.5,8.5,8.5,13.0, 13.0,9.5,7.0,10.5,11.0,7.5,7.5,11.0,11.0,7.5, 8.0,12.0,12.0,9.0,7.5,11.5,11.0,8.0,7.0,11.0],
 [11.4,7.6,5.5,6.2,6.5,4.0,4.5,8.5,9.5,9.0, 10.0,12.5,13.0,10.5,7.2,9.5,9.0,6.0,5.0,9.8, 10.5,8.0,8.8,11.5,11.8,9.5,8.8,11.8,12.0,8.8, 8.0,11.8,12.0,9.0,8.5,12.2,11.5,8.8,8.5,12.0, 11.5,8.5,7.2,9.8,10.0,7.8,7.5,10.0,10.0,7.5, 7.8,11.0,10.8,8.2,7.8,10.2,10.0,8.0,7.2,9.8],
 [11.6,8.0,6.0,6.8,7.8,4.6,5.5,9.8,10.8,10.0, 11.0,14.0,14.8,12.2,8.8,11.0,10.8,7.2,6.2,11.5, 12.5,9.5,10.2,13.8,14.0,11.5,10.5,14.2,14.5,10.5, 9.5,13.8,14.2,10.5,10.0,14.5,13.5,10.5,10.0,14.2, 13.8,10.2,8.8,11.8,12.2,9.2,8.8,12.2,12.2,9.2, 9.2,13.2,13.0,9.8,9.2,12.2,12.0,9.5,8.8,11.8],
 [11.4,7.4,5.5,6.0,6.6,3.8,4.6,8.2,9.2,8.8, 9.8,12.0,12.5,10.2,7.0,9.2,9.0,6.0,5.0,9.6, 10.2,7.8,8.5,11.2,11.2,9.2,8.5,11.2,11.2,8.2, 7.8,11.2,11.5,8.5,8.2,11.5,10.8,8.2,8.0,11.2, 11.0,8.2,7.0,9.2,9.5,7.2,7.0,9.5,9.5,7.0, 7.2,10.2,10.0,7.5,7.2,9.8,9.5,7.5,7.0,9.2],
 [11.5,8.0,6.2,7.0,7.2,4.8,5.2,10.0,11.0,9.5, 10.5,14.5,15.0,11.5,8.0,11.5,10.0,6.8,6.2,12.0, 12.0,9.0,9.5,13.5,13.0,10.8,10.0,14.0,14.0,9.8, 8.8,13.8,14.0,9.8,9.5,14.2,13.0,9.5,9.5,14.0, 13.5,9.5,8.0,11.0,11.5,8.5,8.2,11.8,11.5,8.2, 8.5,12.8,12.2,9.0,8.5,12.0,11.5,8.8,8.0,11.5]
];
const WG_WARN_HIGH = 28;
const WG_WARN_LOW = 20.85;

// ---------- Bedekkingsgraad ----------
const CC_OPER = [3,96,100,70,81,100,97,73,100,100, 99,100,100,100,100,1,2,0.5,100,100, 37,100,87,99,100,85.5,91,99,100,100, 100,74,96,99,43,99,99,100,100,100];
const CC_CTRL = [3,90,100,88,55,100,96,85,96,100, 100,99,97,92,92,0.5,0.5,0,100,69, 79,100,58,100,96,74,50,65,86.5,83, 87,100,96,76,52,100,99,94,100,92, 59,100,77,94,45,84,92,38,85,91.5, 100,100,30,32,63,39,6,1.5,4,26];
const CC_P75 = [25,89,100,99,67.5,100,100,100,100,100, 100,100,96,83.3,26,91,28.5,48,100,100, 100,100,100,100,100,100,100,100,98,100, 100,100,100,100,100,100,100,100,100,97, 99,100,100,100,100,100,100,100,100,100, 100,100,100,100,100,100,100,100,100,100];
const CC_P25 = [9,71.5,100,84,36,95,95,77,92,100, 90.5,70,1,0,0,0,0,0,32.3,84, 57.7,83.3,64.6,92,71.8,78.7,56.7,61,35.3,64, 93,74,52,58,48,67,49,53,48,42, 22,17,38,50,18,29,45,28,26.5,30, 30,53,29,25,20,59,34,23.5,17,52];
const CC_MED = [18,80,100,95,55,99,99,92,99,100, 99,96,34.6,4.5,7,55,3,3.5,91,96.5, 91.5,99,96,99,93.6,97.3,96,96.7,81.3,98.5, 99,99,84,95,95,90,90,96,93,79, 72,89,85,88.7,66,84,82,85,85,91, 91,95.5,73,87,77,94,70,79,69,85];

// ---------- drawing ----------
const svg = d3.select("#chart");
const RIGHT = 634.3, PH = 260;
const GREEN = "#3f9f1f", RED = "#cc3333", BLUE = "#3333cc", AVGC = "#7a0000";
const HOURS_LINE = d3.range(60).map(i => -6 + 6 * i);
const HOURS_CLOUD = d3.range(60).map(i => -3 + 6 * i);
const GRID_HOURS = d3.range(-6, 349, 6);
const NOON_HOURS = DAY_LABELS.map((d, k) => 12 + 24 * k);
const defs = svg.append("defs");

function basePanel(idx, top, left, xDomain, yDomain, yStep, tickLen, labelGap) {
  const g = svg.append("g");
  const bottom = top + PH;
  const x = d3.scaleLinear().domain(xDomain).range([left, RIGHT]);
  const y = d3.scaleLinear().domain(yDomain).range([bottom, top]);
  const clipId = "clip" + idx;
  defs.append("clipPath").attr("id", clipId).append("rect")
    .attr("x", left).attr("y", top).attr("width", RIGHT - left).attr("height", PH);
  const yTicks = d3.range(yDomain[0], yDomain[1] + 1e-6, yStep);
  g.append("g").selectAll("line").data(yTicks).join("line")
    .attr("x1", left).attr("x2", RIGHT).attr("y1", d => y(d)).attr("y2", d => y(d))
    .attr("stroke", "#d9d9d9").attr("stroke-width", 1);
  const vg = GRID_HOURS.filter(h => ((h % 24) + 24) % 24 !== 0);
  g.append("g").selectAll("line").data(vg).join("line")
    .attr("x1", d => x(d)).attr("x2", d => x(d)).attr("y1", top).attr("y2", bottom)
    .attr("stroke", "#d9d9d9").attr("stroke-width", 1);
  const mid = GRID_HOURS.filter(h => h % 24 === 0 && h >= 0);
  g.append("g").selectAll("line").data(mid).join("line")
    .attr("x1", d => x(d)).attr("x2", d => x(d)).attr("y1", top).attr("y2", bottom)
    .attr("stroke", "#555").attr("stroke-width", 1);
  const data = g.append("g").attr("clip-path", `url(#${clipId})`);
  return {g, data, x, y, top, bottom, left, yTicks, tickLen, labelGap};
}

function finishPanel(p, title) {
  const g = p.g;
  g.append("rect").attr("x", p.left).attr("y", p.top).attr("width", RIGHT - p.left).attr("height", PH)
    .attr("fill", "none").attr("stroke", "#000").attr("stroke-width", 1);
  g.append("g").selectAll("line").data(p.yTicks).join("line")
    .attr("x1", p.left - p.tickLen).attr("x2", p.left).attr("y1", d => p.y(d)).attr("y2", d => p.y(d))
    .attr("stroke", "#000");
  g.append("g").selectAll("text").data(p.yTicks).join("text")
    .attr("x", p.left - p.labelGap).attr("y", d => p.y(d)).attr("dy", "0.36em")
    .attr("text-anchor", "end").attr("font-size", 11).text(d => d);
  g.append("g").selectAll("line").data(GRID_HOURS).join("line")
    .attr("x1", d => p.x(d)).attr("x2", d => p.x(d)).attr("y1", p.bottom).attr("y2", p.bottom + 4)
    .attr("stroke", "#000");
  g.append("g").selectAll("text").data(DAY_LABELS).join("text")
    .attr("x", (d, k) => p.x(NOON_HOURS[k])).attr("y", p.bottom + 16)
    .attr("text-anchor", "middle").attr("font-size", 11).text(d => d);
  g.append("text").attr("x", 415).attr("y", p.top - 3).attr("text-anchor", "middle")
    .attr("font-size", 13).attr("font-weight", "bold").text(title);
  g.append("text").attr("x", 633).attr("y", p.top - 12.4).attr("text-anchor", "end")
    .attr("font-size", 8.8).attr("fill", "#999").text(SOURCE_LINE1);
  g.append("text").attr("x", 633).attr("y", p.top - 2.6).attr("text-anchor", "end")
    .attr("font-size", 8.8).attr("fill", "#999").text(SOURCE_LINE2);
}

function lineLegend(p) {
  const cy = p.top - 7.4, ty = p.top - 3.5;
  const g = p.g.append("g");
  const items = [
    {sx: 28.3, tx: 47.7, label: "Oper", stroke: RED, w: 4, dash: null, op: 1},
    {sx: 96.7, tx: 115.7, label: "Control", stroke: BLUE, w: 4, dash: null, op: 1},
    {sx: 175, tx: 193.3, label: "Members", stroke: GREEN, w: 1, dash: null, op: 0.5},
    {sx: 261.7, tx: 281.7, label: "Average", stroke: AVGC, w: 3, dash: "3,2", op: 1}
  ];
  items.forEach(it => {
    g.append("line").attr("x1", it.sx).attr("x2", it.sx + 15).attr("y1", cy).attr("y2", cy)
      .attr("stroke", it.stroke).attr("stroke-width", it.w).attr("stroke-dasharray", it.dash)
      .attr("stroke-opacity", it.op);
    g.append("text").attr("x", it.tx).attr("y", ty).attr("font-size", 10.5).text(it.label);
  });
}

function linePanel(idx, title, yDomain, yStep, members, avg, ctrl, oper, extra) {
  const top = 20.7 + 300 * idx;
  const p = basePanel(idx, top, 28.3, [-6, 348], yDomain, yStep, 8, 9);
  const line = d3.line().x((d, i) => p.x(HOURS_LINE[i])).y(d => p.y(d));
  if (extra) extra(p);
  p.data.append("g").selectAll("path").data(members).join("path")
    .attr("d", line).attr("fill", "none").attr("stroke", GREEN)
    .attr("stroke-width", 1.2).attr("stroke-opacity", 0.5).attr("stroke-linejoin", "round");
  p.data.append("path").attr("d", line(avg)).attr("fill", "none").attr("stroke", AVGC)
    .attr("stroke-width", 3).attr("stroke-dasharray", "3,2.5");
  p.data.append("path").attr("d", line(ctrl)).attr("fill", "none").attr("stroke", BLUE)
    .attr("stroke-width", 3.5).attr("stroke-linejoin", "round");
  p.data.append("path").attr("d", line(oper)).attr("fill", "none").attr("stroke", RED)
    .attr("stroke-width", 3.5).attr("stroke-linejoin", "round");
  finishPanel(p, title);
  lineLegend(p);
}

linePanel(0, "Temperatuur 2m", [-5, 25], 5, T2M_MEMBERS, T2M_AVG, T2M_CTRL, T2M_OPER, p => {
  p.data.append("line").attr("x1", p.left).attr("x2", RIGHT).attr("y1", p.y(0)).attr("y2", p.y(0))
    .attr("stroke", "#000").attr("stroke-width", 2);
});
linePanel(1, "Dauwpunt 2m", [-15, 20], 5, TD_MEMBERS, TD_AVG, TD_CTRL, TD_OPER);
linePanel(2, "Neerslag", [0, 10], 2, PR_MEMBERS, PR_AVG, PR_CTRL, PR_OPER);
linePanel(3, "10m wind", [0, 16], 2, WS_MEMBERS, WS_AVG, WS_CTRL, WS_OPER);
linePanel(4, "10m windstoten", [0, 28], 2, WG_MEMBERS, WG_AVG, WG_CTRL, WG_OPER, p => {
  p.g.append("line").attr("x1", p.left).attr("x2", RIGHT).attr("y1", p.y(WG_WARN_HIGH) + 1.5).attr("y2", p.y(WG_WARN_HIGH) + 1.5)
    .attr("stroke", "#ff55ff").attr("stroke-width", 2.5).attr("stroke-dasharray", "4,4");
  p.data.append("line").attr("x1", p.left).attr("x2", RIGHT).attr("y1", p.y(WG_WARN_LOW)).attr("y2", p.y(WG_WARN_LOW))
    .attr("stroke", "#1f4f4f").attr("stroke-width", 2).attr("stroke-dasharray", "2,2");
});

// cloud cover panel
(function () {
  const top = 1520.3;
  const p = basePanel(5, top, 22.3, [-6.42, 351], [0, 100], 10, 2.5, 3.5);
  const bw = 8;
  p.data.append("g").selectAll("rect").data(CC_P75).join("rect")
    .attr("x", (d, i) => p.x(HOURS_CLOUD[i]) - bw / 2).attr("width", bw)
    .attr("y", d => p.y(d)).attr("height", (d, i) => Math.max(0, p.y(CC_P25[i]) - p.y(d)))
    .attr("fill", "#ffffb8").attr("stroke", "#c4c4c4").attr("stroke-width", 1.5);
  p.data.append("g").selectAll("line").data(CC_MED).join("line")
    .attr("x1", (d, i) => p.x(HOURS_CLOUD[i]) - bw / 2).attr("x2", (d, i) => p.x(HOURS_CLOUD[i]) + bw / 2)
    .attr("y1", d => p.y(d)).attr("y2", d => p.y(d)).attr("stroke", "#222").attr("stroke-width", 1);
  const line = d3.line().x((d, i) => p.x(HOURS_CLOUD[i])).y(d => p.y(d));
  p.data.append("path").attr("d", line(CC_CTRL)).attr("fill", "none").attr("stroke", BLUE)
    .attr("stroke-width", 2.5).attr("stroke-linejoin", "round");
  p.data.append("path").attr("d", line(CC_OPER)).attr("fill", "none").attr("stroke", "#d03030")
    .attr("stroke-width", 2.5).attr("stroke-linejoin", "round");
  finishPanel(p, "Bedekkingsgraad");
  const g = p.g.append("g");
  const items = [
    {sx: 28.3, tx: 39.3, label: "oper", fill: "#d03030"},
    {sx: 86.7, tx: 97.3, label: "control", fill: "#3333cc"},
    {sx: 156.7, tx: 166.7, label: "50%", fill: "#ffffb0"},
    {sx: 213.3, tx: 224, label: "median", fill: "#000"}
  ];
  items.forEach(it => {
    g.append("rect").attr("x", it.sx).attr("y", top - 10.6).attr("width", 6.7).attr("height", 6.7)
      .attr("fill", it.fill).attr("stroke", "#333").attr("stroke-width", 0.8);
    g.append("text").attr("x", it.tx).attr("y", top - 4).attr("font-size", 10.5).text(it.label);
  });
})();
</script>
</body></html>
